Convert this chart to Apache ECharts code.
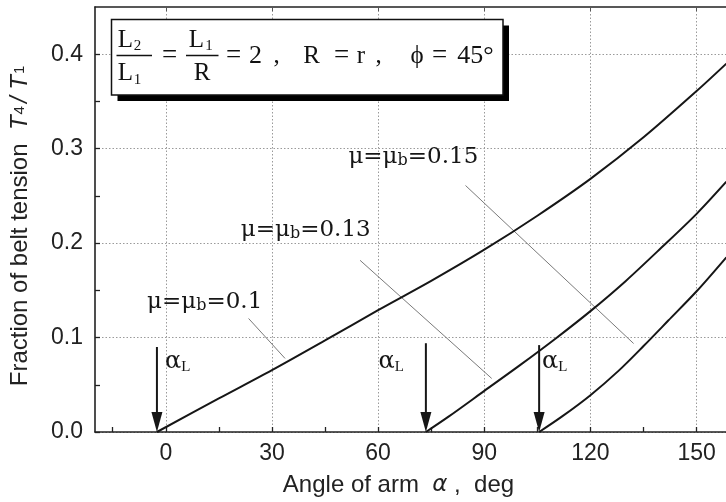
<!DOCTYPE html>
<html>
<head>
<meta charset="utf-8">
<script src="https://cdn.jsdelivr.net/npm/echarts@6/dist/echarts.min.js"></script>
<style>
  html, body { margin: 0; padding: 0; background: #fff; }
  #chart { width: 726px; height: 502px; }
</style>
</head>
<body>
<div id="chart"></div>
<script>
// Fraction of belt tension T4/T1 against arm angle α for three friction coefficients.
const alphaL = [-2.5, 73.5, 105.5];          // lower-limit arm angle of each curve, deg
const alphaArrowTop = [0.09, 0.094, 0.092];   // where each αL arrow starts (T4/T1)

const mu010Angle = [-2.5, 15, 30, 45, 60, 75, 90, 105, 120, 135, 150, 158.4];
const mu010Ratio = [0, 0.0355, 0.0655, 0.097, 0.129, 0.16, 0.193, 0.229, 0.268, 0.312, 0.361, 0.39];

const mu013Angle = [73.5, 80, 90, 100, 110, 120, 130, 140, 150, 158.4];
const mu013Ratio = [0, 0.0165, 0.0435, 0.0705, 0.0985, 0.128, 0.16, 0.195, 0.231, 0.265];

const mu015Angle = [105.5, 112, 120, 128, 135, 142, 150, 158.4];
const mu015Ratio = [0, 0.0165, 0.039, 0.065, 0.091, 0.118, 0.149, 0.185];

const muLabels = ['μ=μ{b|b}=0.1', 'μ=μ{b|b}=0.13', 'μ=μ{b|b}=0.15'];
const muLabelAt = [[-5.3, 0.1377], [21.2, 0.2135], [51.6, 0.2907]];   // left edge, middle
const leaderFrom = [[23.4, 0.1202], [54.9, 0.1818], [84.7, 0.261]];
const leaderTo = [[33.7, 0.0779], [92.1, 0.0567], [132.2, 0.0937]];
const alphaLabelAt = [[-0.2, 0.074], [60.1, 0.074], [106.3, 0.074]];

const xMajor = [0, 30, 60, 90, 120, 150];
const xMinor = [-15, 15, 45, 75, 105, 135];
const yMajor = [0, 0.1, 0.2, 0.3, 0.4];
const yMinor = [0.05, 0.15, 0.25, 0.35];

const sans = "'Liberation Sans', Arial, sans-serif";
const serif = "'Liberation Serif', 'Times New Roman', serif";
const serifWide = "'DejaVu Serif', serif";
const ink = '#161616';
const gridDots = { color: '#9a9a9a', width: 1, type: [1.5, 2] };

const pairs = (xs, ys) => xs.map((x, i) => [x, ys[i]]);

const chart = echarts.init(document.getElementById('chart'), null, { renderer: 'canvas' });

const curves = [[mu010Angle, mu010Ratio], [mu013Angle, mu013Ratio], [mu015Angle, mu015Ratio]];

const series = curves.map(([a, r]) => ({
  type: 'line',
  xAxisIndex: 0, yAxisIndex: 0,
  data: pairs(a, r),
  smooth: 0.3,
  showSymbol: false,
  silent: true,
  lineStyle: { color: ink, width: 2 },
  z: 4
}));

leaderFrom.forEach((p, i) => {
  series.push({
    type: 'line',
    xAxisIndex: 0, yAxisIndex: 0,
    data: [p, leaderTo[i]],
    showSymbol: false,
    silent: true,
    lineStyle: { color: '#7a7a7a', width: 1 },
    z: 3
  });
});

chart.setOption({
  animation: false,
  backgroundColor: '#fff',
  grid: {
    left: 95, top: 7, bottom: 70, right: -6,
    outerBoundsMode: 'none',
    containLabel: false,
    show: false
  },
  xAxis: [
    {
      type: 'value', min: -20, max: 160, position: 'bottom',
      axisLine: { show: true, onZero: false, lineStyle: { color: '#222', width: 1.6 } },
      axisTick: { show: true, inside: true, length: 5, customValues: xMajor.concat(xMinor), lineStyle: { color: '#222', width: 1.3 } },
      axisLabel: { customValues: xMajor, fontFamily: sans, fontSize: 23, color: '#222', margin: 10 },
      splitLine: { show: false },
      name: 'Angle of arm  {a|α} ,  deg',
      nameLocation: 'middle',
      nameGap: 41,
      nameTextStyle: {
        fontFamily: sans, fontSize: 24, color: '#222', padding: [0, 30, 0, 0],
        rich: { a: { fontFamily: "'DejaVu Sans', sans-serif", fontStyle: 'italic', fontSize: 23, color: '#222' } }
      }
    },
    {
      type: 'value', min: -20, max: 160, position: 'top',
      axisLine: { show: true, onZero: false, lineStyle: { color: '#222', width: 1.6 } },
      axisTick: { show: true, inside: true, length: 4, customValues: xMajor, lineStyle: { color: '#555', width: 1 } },
      axisLabel: { show: false },
      splitLine: { show: true, lineStyle: gridDots }
    }
  ],
  yAxis: [
    {
      type: 'value', min: 0, max: 0.45, position: 'left',
      axisLine: { show: true, onZero: false, lineStyle: { color: '#222', width: 1.6 } },
      axisTick: { show: true, inside: true, length: 5, customValues: yMajor.concat(yMinor), lineStyle: { color: '#222', width: 1.3 } },
      axisLabel: { customValues: yMajor, formatter: v => v.toFixed(1), fontFamily: sans, fontSize: 23, color: '#222', margin: 12 },
      splitLine: { show: false },
      name: 'Fraction of belt tension  {t|T}{s|4}{t|/ T}{s|1}',
      nameLocation: 'middle',
      nameRotate: 90,
      nameGap: 63,
      nameTextStyle: {
        fontFamily: sans, fontSize: 24, color: '#222', padding: [0, 10, 0, 0],
        rich: {
          t: { fontFamily: sans, fontStyle: 'italic', fontSize: 24, color: '#222' },
          s: { fontFamily: sans, fontSize: 15, color: '#222', padding: [0, 3, 0, 1] }
        }
      }
    },
    {
      type: 'value', min: 0, max: 0.45, position: 'right',
      axisLine: { show: true, onZero: false, lineStyle: { color: '#222', width: 1.6 } },
      axisTick: { show: true, inside: true, length: 4, customValues: yMajor, lineStyle: { color: '#555', width: 1 } },
      axisLabel: { show: false },
      splitLine: { show: true, lineStyle: gridDots }
    }
  ],
  series: series
});

// Annotations placed in data coordinates through the axes
const toPx = p => chart.convertToPixel({ xAxisIndex: 0, yAxisIndex: 0 }, p);
const graphics = [];

muLabels.forEach((txt, i) => {
  const [x, y] = toPx(muLabelAt[i]);
  graphics.push({
    type: 'text', x: x, y: y, z: 10,
    style: {
      text: txt, fontFamily: serifWide, fontSize: 23, fill: ink,
      textAlign: 'left', textVerticalAlign: 'middle',
      rich: { b: { fontFamily: serifWide, fontSize: 16, fill: ink, verticalAlign: 'bottom', lineHeight: 16 } }
    }
  });
});

alphaL.forEach((a, i) => {
  const [x, y0] = toPx([a, 0]);
  const [, y1] = toPx([a, alphaArrowTop[i]]);
  const headLen = 20, headHalf = 5.5;
  graphics.push({
    type: 'line', z: 9,
    shape: { x1: x, y1: y1, x2: x, y2: y0 - headLen + 2 },
    style: { stroke: ink, lineWidth: 2 }
  });
  graphics.push({
    type: 'polygon', z: 9,
    shape: { points: [[x - headHalf, y0 - headLen], [x + headHalf, y0 - headLen], [x, y0]] },
    style: { fill: ink }
  });
  const [lx, ly] = toPx(alphaLabelAt[i]);
  graphics.push({
    type: 'text', x: lx, y: ly, z: 10,
    style: {
      text: 'α{l|L}', fontFamily: serifWide, fontSize: 24, fill: ink,
      textAlign: 'left', textVerticalAlign: 'middle',
      rich: { l: { fontFamily: serif, fontSize: 15, fill: ink, verticalAlign: 'bottom', lineHeight: 17 } }
    }
  });
});

// Parameter box with a hard drop shadow
const boxX = 111.5, boxY = 19.5, boxW = 391.5, boxH = 75.5;
graphics.push({ type: 'rect', z: 20, shape: { x: boxX + 6, y: boxY + 6, width: boxW, height: boxH }, style: { fill: '#000' } });
graphics.push({ type: 'rect', z: 21, shape: { x: boxX, y: boxY, width: boxW, height: boxH }, style: { fill: '#fff', stroke: '#111', lineWidth: 1.5 } });

const boxText = (t, cx, cy, size) => ({
  type: 'text', x: cx, y: cy, z: 22,
  style: { text: t, fontFamily: serif, fontSize: size || 25, fill: '#111', textAlign: 'center', textVerticalAlign: 'middle' }
});
const bar = (x1, x2, y) => ({ type: 'line', z: 22, shape: { x1: x1, y1: y, x2: x2, y2: y }, style: { stroke: '#111', lineWidth: 1.3 } });

graphics.push(
  boxText('L', 125.5, 40), boxText('2', 137.5, 46, 15),
  bar(116.5, 152, 55.5),
  boxText('L', 125.5, 73), boxText('1', 137.5, 80, 15),
  boxText('=', 169.5, 56, 27),
  boxText('L', 196.5, 40), boxText('1', 209, 46, 15),
  bar(186, 218.5, 55.5),
  boxText('R', 202, 73),
  boxText('=', 233.5, 56, 27),
  boxText('2', 255.5, 56, 26),
  boxText(',', 276.5, 56),
  boxText('R', 311.5, 56),
  boxText('=', 341.5, 56, 27),
  boxText('r', 361, 56),
  boxText(',', 378.5, 56),
  boxText('ϕ', 417, 56),
  boxText('=', 439.5, 56, 27),
  boxText('45°', 475.5, 56, 26)
);

chart.setOption({ graphic: graphics });
</script>
</body>
</html>
